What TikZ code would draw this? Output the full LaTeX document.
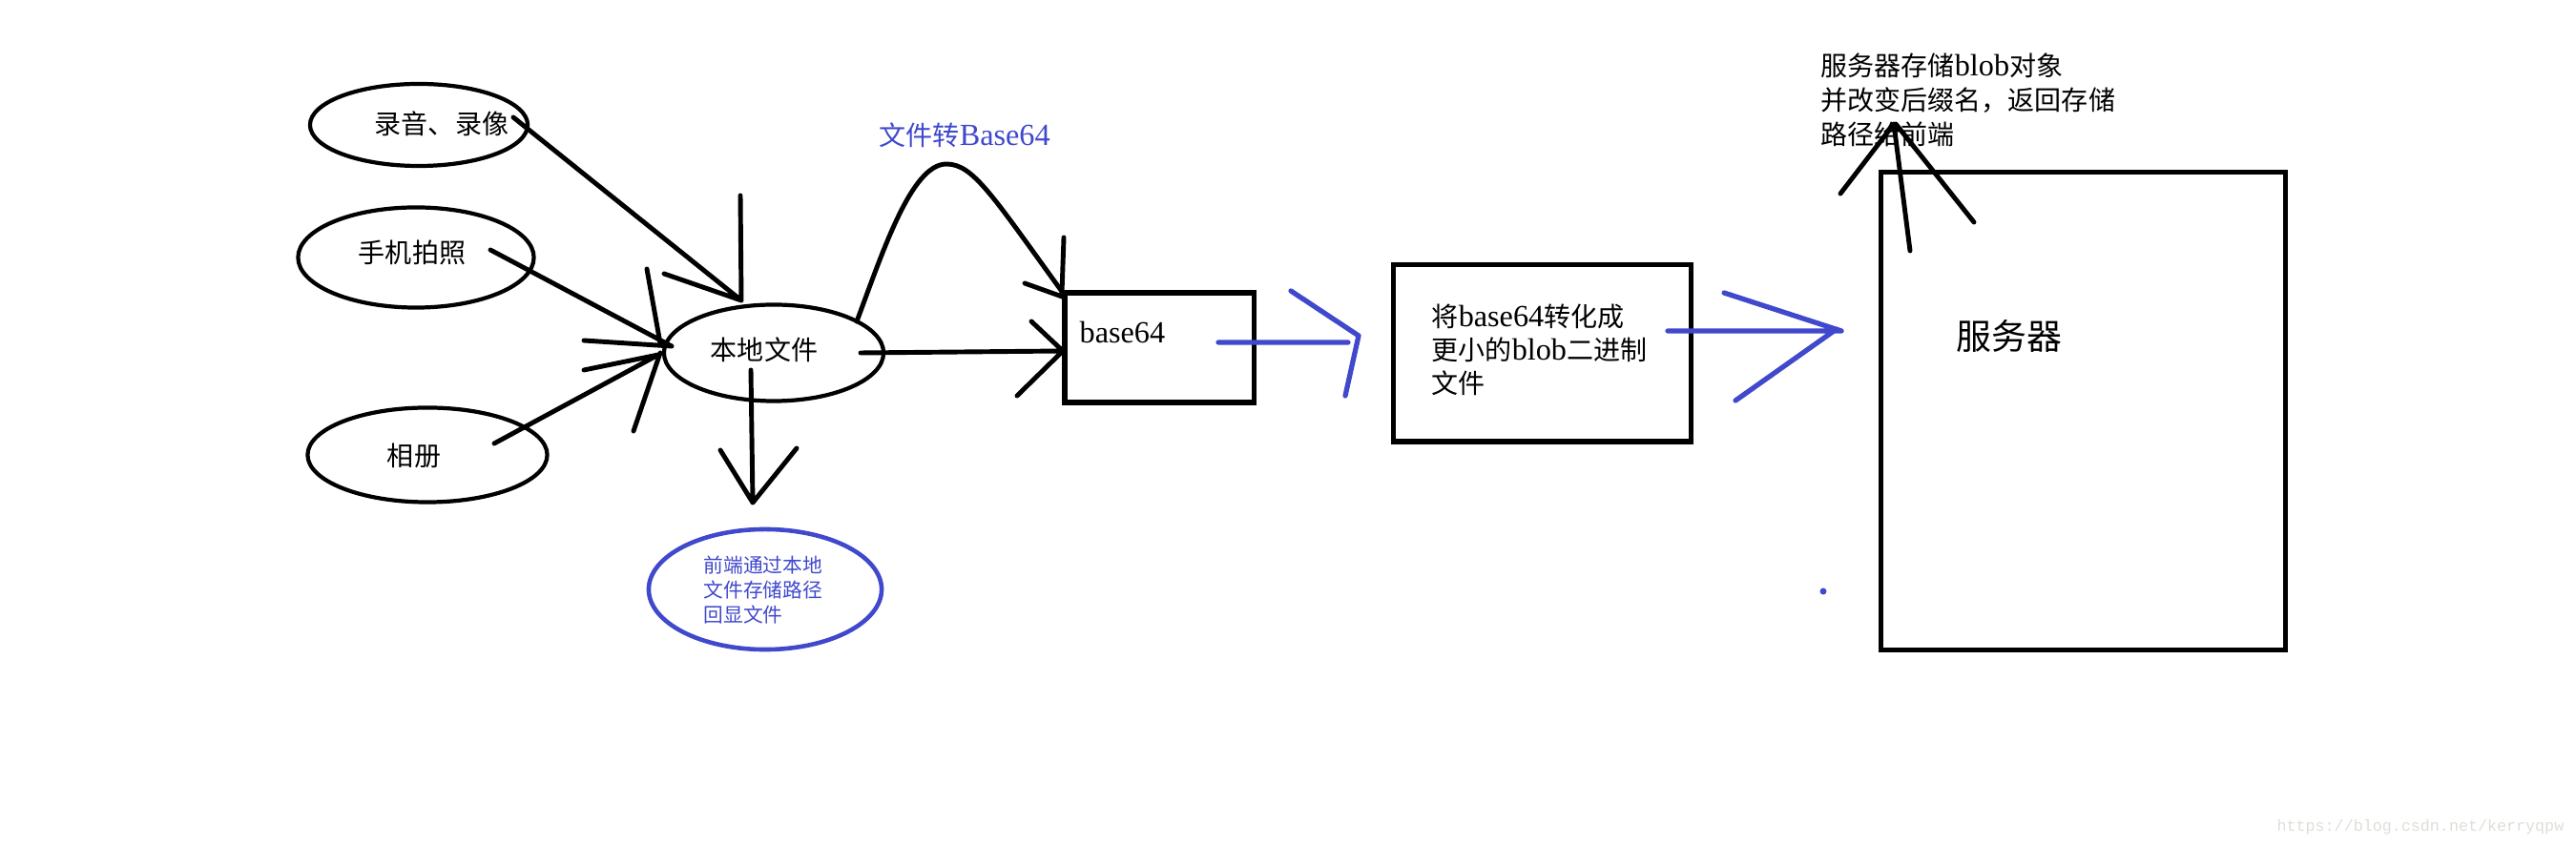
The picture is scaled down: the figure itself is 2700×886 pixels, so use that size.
\documentclass[tikz,border=0pt]{standalone}
\usepackage{fontspec}
\setmainfont{Liberation Serif}[Scale=1.15]
\newfontfamily\cjk{Noto Sans CJK SC}
\newfontfamily\wmfont{Liberation Mono}
\usetikzlibrary{shapes.geometric}
\definecolor{inkblue}{RGB}{64,72,204}
\definecolor{wmgray}{RGB}{222,222,216}
\begin{document}
\begin{tikzpicture}[x=0.01cm,y=-0.01cm,
  ink/.style={line width=1.4pt,line cap=round,line join=round,black},
  bink/.style={line width=1.5pt,line cap=round,line join=round,inkblue},
  oval/.style={draw,ellipse,line width=1.2pt,inner sep=0pt},
  boxnode/.style={draw,rectangle,line width=1.45pt,inner sep=0pt},
  txt/.style={inner sep=0pt,font=\fontsize{7.97pt}{9.96pt}\cjk},
]
\useasboundingbox (0,0) rectangle (2700,886);

% ---- nodes ----
\node[oval,minimum width=2.28cm,minimum height=0.86cm] (rec) at (439,131) {};
\node[txt] (recT) at (463,130) {录音、录像};
\node[oval,minimum width=2.47cm,minimum height=1.05cm] (phone) at (436,270) {};
\node[txt] (phoneT) at (432,265) {手机拍照};
\node[oval,minimum width=2.51cm,minimum height=0.99cm] (album) at (448,477) {};
\node[txt] (albumT) at (434,478) {相册};
\node[oval,minimum width=2.30cm,minimum height=1.01cm] (local) at (811,370) {};
\node[txt] (localT) at (801,367) {本地文件};
\node[oval,draw=inkblue,line width=1.3pt,minimum width=2.44cm,minimum height=1.26cm] (echo) at (802,618) {};
\node[txt,text=inkblue,anchor=west,align=left,font=\fontsize{5.9pt}{7.4pt}\cjk] (echoT) at (737,619) {前端通过本地\\文件存储路径\\回显文件};

\node[txt,text=inkblue,anchor=west] (convT) at (921,142) {文件转{\rmfamily Base64}};
\node[boxnode,minimum width=1.98cm,minimum height=1.15cm] (b64) at (1215,364.5) {};
\node[txt,anchor=west] (b64T) at (1131,348) {\rmfamily base64};
\node[boxnode,minimum width=3.11cm,minimum height=1.85cm] (blob) at (1616.5,370.5) {};
\node[txt,anchor=west,align=left] (blobT) at (1500,367) {将{\rmfamily base64}转化成\\更小的{\rmfamily blob}二进制\\文件};
\node[boxnode,minimum width=4.23cm,minimum height=5.00cm] (server) at (2183.5,431) {};
\node[txt,font=\fontsize{10.5pt}{13pt}\cjk] (serverT) at (2106,352) {服务器};
\node[txt,anchor=west,align=left,font=\fontsize{7.97pt}{10.24pt}\cjk] (noteT) at (1908,105) {服务器存储{\rmfamily blob}对象\\并改变后缀名，返回存储\\路径给前端};
\node[inner sep=0pt,anchor=east,text=wmgray,font=\fontsize{4.75pt}{5pt}\wmfont] (wm) at (2688,867) {https://blog.csdn.net/kerryqpw};
\node[circle,fill=inkblue,inner sep=0pt,minimum size=2pt] (dot) at (1911,620) {};

% ---- connector end points ----
\coordinate (s1) at (538,123);  \coordinate (t1) at (777,315);
\coordinate (h1a) at (776,205); \coordinate (h1b) at (696,287);
\coordinate (s2) at (514,262);  \coordinate (t2) at (704,363);
\coordinate (h2a) at (678,282); \coordinate (t2a) at (692,360); \coordinate (h2b) at (612,357);
\coordinate (s3) at (518,465);  \coordinate (t3) at (690,372);
\coordinate (h3a) at (612,388); \coordinate (h3b) at (664,452); \coordinate (t3b) at (692,370);
\coordinate (s4) at (787,388);  \coordinate (t4) at (789,527);
\coordinate (h4a) at (755,472); \coordinate (h4b) at (835,470);
\coordinate (s5) at (902,370);  \coordinate (t5) at (1114,368);
\coordinate (h5a) at (1081,337); \coordinate (h5b) at (1066,415);
\coordinate (s6) at (898,337);  \coordinate (p6) at (992,172); \coordinate (t6) at (1114,307);
\coordinate (h6a) at (1115,249); \coordinate (t6a) at (1113,307);
\coordinate (h6b) at (1074,297); \coordinate (t6b) at (1116,312);
\coordinate (s7) at (2002,263); \coordinate (t7) at (1985,130);
\coordinate (h7a) at (1929,203); \coordinate (h7b) at (2069,233); \coordinate (t7b) at (1987,130);
\coordinate (s8) at (1277,359); \coordinate (t8) at (1413,359);
\coordinate (h8a) at (1353,305); \coordinate (h8b) at (1410,415); \coordinate (t8h) at (1424,352);
\coordinate (s9) at (1748,347); \coordinate (t9) at (1930,347);
\coordinate (h9a) at (1807,307); \coordinate (h9b) at (1819,420); \coordinate (t9b) at (1925,345);

% ---- black connectors ----
\draw[ink] (s1) -- (t1) (h1a) -- (t1) (h1b) -- (t1);
\draw[ink] (s2) -- (t2) (h2a) -- (t2a) (h2b) -- (t2);
\draw[ink] (s3) -- (t3) (h3a) -- (t3) (h3b) -- (t3b);
\draw[ink] (s4) -- (t4) (h4a) -- (t4) (h4b) -- (t4);
\draw[ink] (s5) -- (t5) (h5a) -- (t5) (h5b) -- (t5);
\draw[ink] (s6) .. controls (925,265) and (955,172) .. (p6)
           .. controls (1020,172) and (1040,205) .. (t6);
\draw[ink] (h6a) -- (t6a) (h6b) -- (t6b);
\draw[ink] (s7) -- (t7) (h7a) -- (t7) (h7b) -- (t7b);

% ---- blue connectors ----
\draw[bink] (s8) -- (t8) (h8a) -- (t8h) (h8b) -- (t8h);
\draw[bink] (s9) -- (t9) (h9a) -- (t9) (h9b) -- (t9b);
\end{tikzpicture}
\end{document}
